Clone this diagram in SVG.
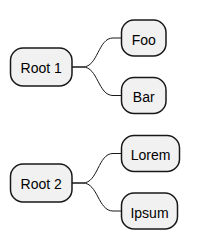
<svg xmlns="http://www.w3.org/2000/svg" width="200" height="250" viewBox="0 0 200 250">
<style>
.n rect{fill:#F1F1F1;stroke:#181818;stroke-width:1.5}
.n text{font-family:"Liberation Sans",Arial,sans-serif;font-size:14px;fill:#000;text-anchor:middle}
.c path{fill:none;stroke:#181818;stroke-width:1}
</style>
<rect width="200" height="250" fill="#fff"/>
<g class="c">
<path d="M72,67 L83,67 C98,67 98,38 113,38 L121,38"/>
<path d="M72,67 L83,67 C98,67 98,95.5 113,95.5 L121,95.5"/>
<path d="M72,183 L83,183 C98,183 98,153.5 113,153.5 L121,153.5"/>
<path d="M72,183 L83,183 C98,183 98,211 113,211 L121,211"/>
</g>
<g id="root1" class="n"><rect x="10.5" y="48" width="61.5" height="38" rx="12.5"/><text x="41.2" y="73">Root 1</text></g>
<g id="foo" class="n"><rect x="121.5" y="20" width="44.5" height="36" rx="12.5"/><text x="143.7" y="44.5">Foo</text></g>
<g id="bar" class="n"><rect x="121.5" y="77.5" width="44.5" height="36" rx="12.5"/><text x="143.7" y="102">Bar</text></g>
<g id="root2" class="n"><rect x="10.5" y="164" width="61.5" height="38" rx="12.5"/><text x="41.2" y="189">Root 2</text></g>
<g id="lorem" class="n"><rect x="121.5" y="135.5" width="58" height="36" rx="12.5"/><text x="150.5" y="160">Lorem</text></g>
<g id="ipsum" class="n"><rect x="121.5" y="193" width="56" height="36" rx="12.5"/><text x="149.5" y="217.5">Ipsum</text></g>
</svg>
